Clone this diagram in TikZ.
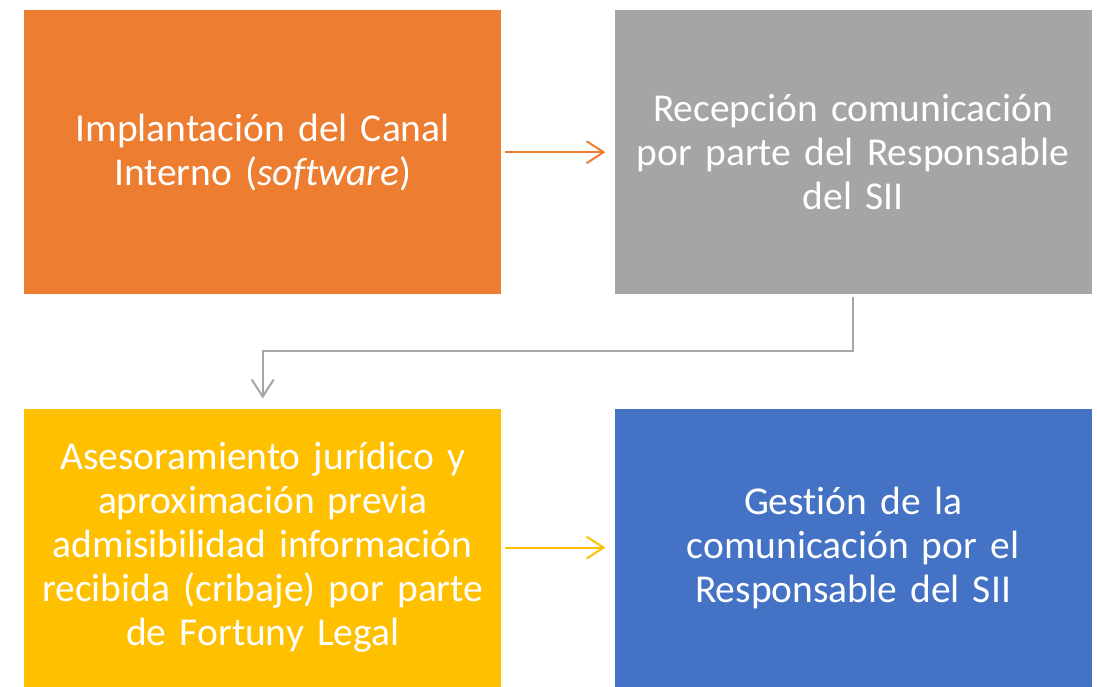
\documentclass[tikz,border=0pt]{standalone}
\usepackage{fontspec}
\setmainfont[Ligatures=NoCommon,WordSpace=0.85]{Carlito}
\usetikzlibrary{arrows.meta,positioning}
\definecolor{Orange}{HTML}{ED7D31}
\definecolor{Grey}{HTML}{A5A5A5}
\definecolor{Gold}{HTML}{FFC000}
\definecolor{Blue}{HTML}{4472C4}
\tikzset{
  box/.style={minimum width=477pt,minimum height=284pt,inner sep=0pt,text width=460pt,align=center,text=white,font=\fontsize{39.5}{44}\selectfont},
  lowbox/.style={box,minimum height=278pt},
  arr/.style={-{Straight Barb[length=17pt,width=22pt]},line width=2pt}
}

\begin{document}
\begin{tikzpicture}[x=1pt,y=-1pt]
  \useasboundingbox (0,0) rectangle (1097,686);
  \node[box,fill=Orange,anchor=north west] (implantacion) at (24,10) {Implantación del Canal\\Interno (\textit{software})};
  \node[box,fill=Grey,right=113pt of implantacion] (recepcion) {Recepción comunicación\\por parte del Responsable\\del SII};
  \node[lowbox,fill=Gold,below=114pt of implantacion] (asesoramiento) {Asesoramiento jurídico y\\aproximación previa\\admisibilidad información\\recibida (cribaje) por parte\\de Fortuny Legal};
  \node[lowbox,fill=Blue,right=113pt of asesoramiento] (gestion) {Gestión de la\\comunicación por el\\Responsable del SII};
  \draw[arr,Orange,shorten <=4pt,shorten >=9pt] (implantacion) -- (recepcion);
  \draw[arr,Grey,shorten <=3pt,shorten >=10pt] (recepcion.south) -- ++(0,57) -| (asesoramiento.north);
  \draw[arr,Gold,shorten <=4pt,shorten >=9pt] (asesoramiento) -- (gestion);
\end{tikzpicture}
\end{document}
